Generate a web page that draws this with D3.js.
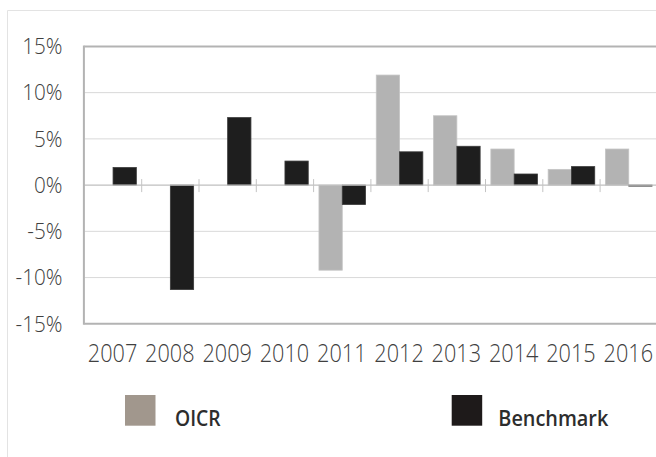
<!DOCTYPE html>
<html><head><meta charset="utf-8">
<script src="https://cdn.jsdelivr.net/npm/d3@7"></script>
<style>body{margin:0;background:#fff}svg{display:block}</style>
</head><body>
<svg id="c" width="656" height="457"></svg>
<script>
const years = ["2007","2008","2009","2010","2011","2012","2013","2014","2015","2016"];
const seriesNames = ["OICR","Benchmark"];
const oicr = [null,null,null,null,-9.2,11.9,7.5,3.9,1.7,3.9];
const benchmark = [1.9,-11.3,7.3,2.6,-2.1,3.6,4.2,1.2,2.0,-0.1];
const yTicks = [-15,-10,-5,0,5,10,15];
const colors = ["#b3b3b3","#1e1e1e"];
const legendColors = ["#a1978d","#1e1a1a"];

(function(){
const svg = d3.select("#c");
const pLeft = 84.4, pRight = 657.4, pTop = 46.4, pBottom = 323.8;

// outer frame
svg.append("line").attr("x1",7.5).attr("x2",656).attr("y1",10.5).attr("y2",10.5).attr("stroke","#e3e3e3");
svg.append("line").attr("x1",7.5).attr("x2",7.5).attr("y1",10.5).attr("y2",457).attr("stroke","#e3e3e3");

const x = d3.scaleBand().domain(years).range([pLeft,pRight]).paddingInner(0).paddingOuter(0);
const xs = d3.scaleBand().domain(seriesNames).range([0,x.bandwidth()]).paddingInner(0).paddingOuter(0.23);
const y = d3.scaleLinear().domain([-15,15]).range([pBottom,pTop]);

// gridlines
svg.append("g").selectAll("line").data(yTicks.filter(t=>t!==0 && Math.abs(t)!==15)).join("line")
  .attr("x1",pLeft).attr("x2",pRight).attr("y1",d=>y(d)).attr("y2",d=>y(d))
  .attr("stroke","#d9d9d9").attr("stroke-width",1);

// bars
const data = [];
years.forEach((yr,i)=>{
  if (oicr[i]!==null) data.push({yr, s:"OICR", v:oicr[i], c:colors[0]});
  if (benchmark[i]!==null) data.push({yr, s:"Benchmark", v:benchmark[i], c:colors[1]});
});
svg.append("g").selectAll("rect").data(data).join("rect")
  .attr("x",d=>x(d.yr)+xs(d.s))
  .attr("width",xs.bandwidth())
  .attr("y",d=>Math.min(y(0),y(d.v)))
  .attr("height",d=>Math.max(1,Math.abs(y(d.v)-y(0))))
  .attr("fill",d=>d.c)
  .attr("stroke",d=>d.s==="OICR"?"#c4c4c4":"#3a3a3a")
  .attr("stroke-width",0.8);

// zero axis with ticks
svg.append("line").attr("x1",pLeft).attr("x2",pRight).attr("y1",y(0)).attr("y2",y(0)).attr("stroke","#bfbfbf").attr("stroke-width",1.2);
svg.append("g").selectAll("line").data(years.slice(1)).join("line")
  .attr("x1",d=>x(d)).attr("x2",d=>x(d)).attr("y1",y(0)-6).attr("y2",y(0)+7)
  .attr("stroke","#c4c4c4").attr("stroke-width",1);

// plot border
svg.append("line").attr("x1",pLeft).attr("x2",pRight).attr("y1",pTop).attr("y2",pTop).attr("stroke","#b3b3b3").attr("stroke-width",2);
svg.append("line").attr("x1",pLeft).attr("x2",pRight).attr("y1",pBottom).attr("y2",pBottom).attr("stroke","#b3b3b3").attr("stroke-width",2);
svg.append("line").attr("x1",pLeft-0.5).attr("x2",pLeft-0.5).attr("y1",pTop-1).attr("y2",pBottom+1).attr("stroke","#b3b3b3").attr("stroke-width",2);

// y labels
svg.append("g").selectAll("text").data(yTicks).join("text")
  .attr("x",62.5).attr("y",d=>y(d)+7.8)
  .attr("text-anchor","end").attr("font-family","Open Sans").attr("font-weight",300).attr("font-size",22)
  .attr("fill","#404040").text(d=>d+"%")
  .each(function(){ const w=this.getComputedTextLength(); d3.select(this).attr("textLength",w*0.94).attr("lengthAdjust","spacingAndGlyphs"); });

// x labels (slightly stretched vertically like the reference)
svg.append("g").selectAll("text").data(years).join("text")
  .attr("transform",d=>`translate(${x(d)+x.bandwidth()/2-0.5},362.3) scale(1,1.14)`)
  .attr("text-anchor","middle").attr("font-family","Open Sans").attr("font-weight",300).attr("font-size",22)
  .attr("fill","#404040").text(d=>d)
  .attr("textLength",49.5).attr("lengthAdjust","spacingAndGlyphs");

// legend
const lg = [{n:"OICR", sx:125, tx:175, w:45.7, c:legendColors[0]},{n:"Benchmark", sx:451.7, tx:498.3, w:110, c:legendColors[1]}];
lg.forEach(l=>{
  svg.append("rect").attr("x",l.sx).attr("y",395).attr("width",30.5).attr("height",30.7).attr("fill",l.c);
  svg.append("text").attr("x",l.tx).attr("y",425.7).attr("font-family","Open Sans").attr("font-weight",600)
    .attr("font-size",21).attr("fill","#2d2d2d").text(l.n)
    .attr("textLength",l.w).attr("lengthAdjust","spacingAndGlyphs");
});
})();
</script>
</body></html>
